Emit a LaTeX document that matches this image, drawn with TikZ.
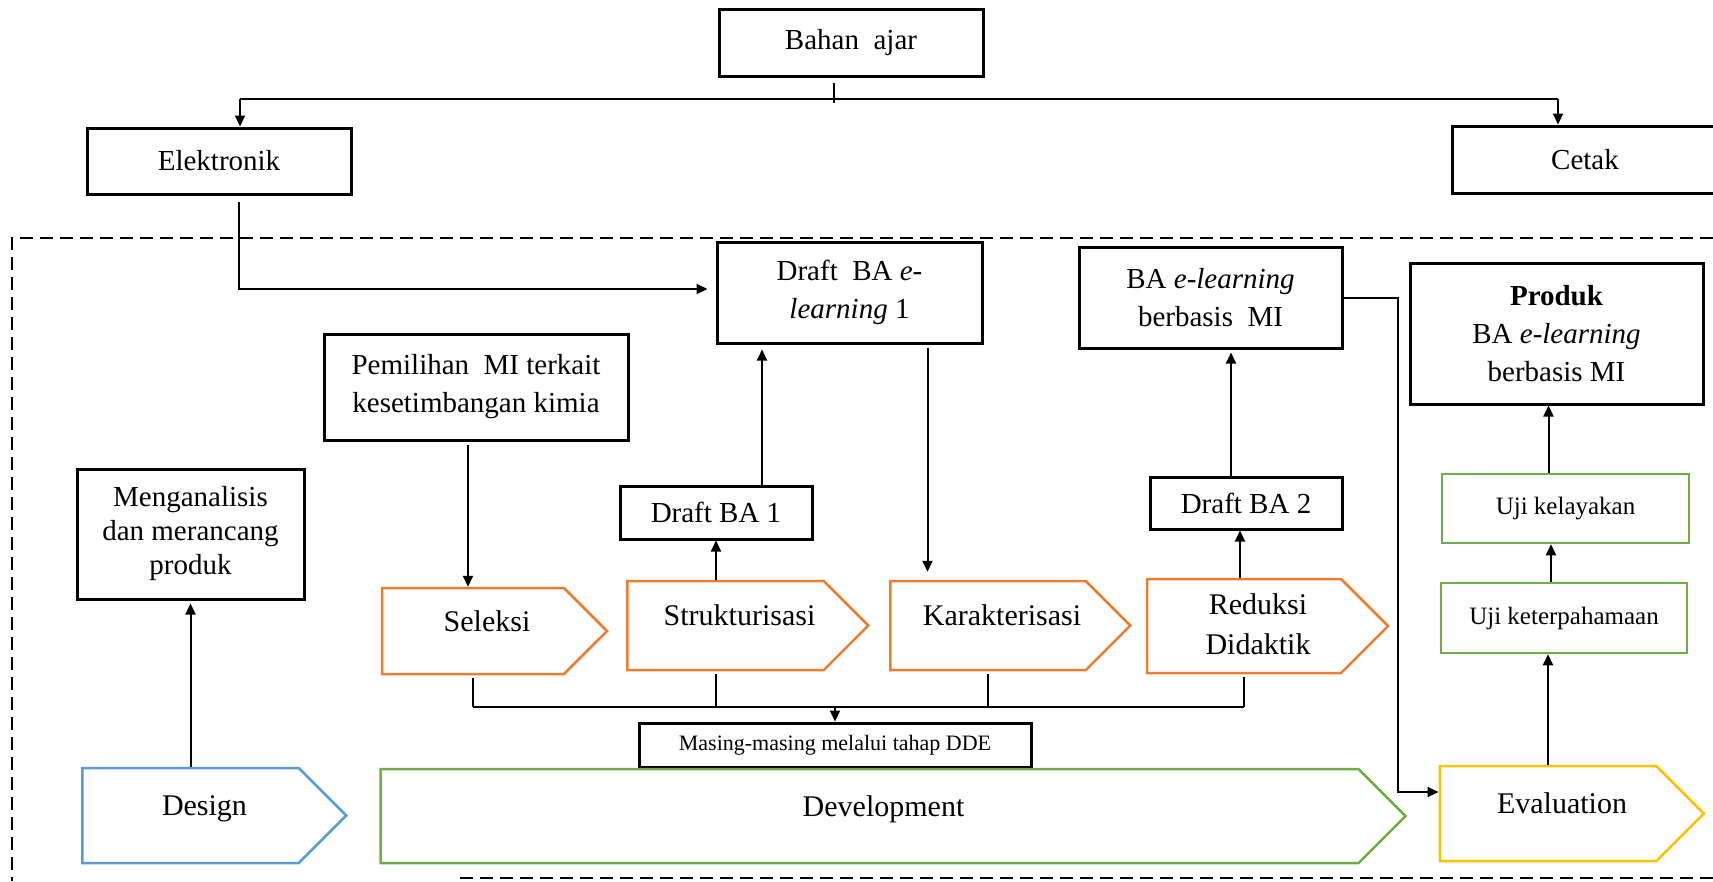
\documentclass[tikz,border=0pt]{standalone}
\usepackage{fontspec}
\setmainfont{Liberation Serif}
\usetikzlibrary{arrows.meta,shapes.symbols}
\definecolor{oranye}{HTML}{ED7D31}
\definecolor{hijau}{HTML}{70AD47}
\definecolor{biru}{HTML}{5B9BD5}
\definecolor{kuning}{HTML}{FFC000}
\tikzset{
  kotak/.style={draw, line width=3pt, inner sep=0pt, align=center, font=\fontsize{29}{38}\selectfont},
  uji/.style={kotak, draw=hijau, line width=2.5pt, font=\fontsize{25}{30}\selectfont},
  tahap/.style={signal, signal to=east, signal pointer angle=90, draw=#1, line width=2.5pt, inner sep=0pt,
    font=\fontsize{30}{40}\selectfont, execute at begin node={\hspace*{28pt}}},
  sebaris/.style={text height=20pt, text depth=20pt},
  panah/.style={line width=2pt, -{Triangle[length=11pt,width=10pt]}},
  garis/.style={line width=2pt},
  tipis/.style={line width=1.5pt},
  bingkai/.style={line width=2.5pt, dash pattern=on 13pt off 7pt},
}
\begin{document}
\begin{tikzpicture}[x=1pt, y=-1pt]
        \useasboundingbox (0,0) rectangle (1713,881);
        \clip (0,0) rectangle (1713,881);
        % bahan ajar
        \node[kotak, minimum width=264pt, minimum height=67pt] (bahan) at (851,42.5) {Bahan~ ajar};
        \node[kotak, minimum width=264pt, minimum height=66pt] (elektronik) at (219,161) {Elektronik};
        \node[kotak, minimum width=266pt, minimum height=67pt] (cetak) at (1585,159.5) {Cetak};
        \coordinate (cabang) at (834,99);
        \coordinate (kiri) at (240,99);
        \coordinate (kanan) at (1558,99);
        \draw[tipis] ([yshift=-5pt]bahan.south -| cabang) -- ([yshift=-4pt]cabang);
        \draw[garis] (kiri) -- (kanan);
        \draw[panah] (kiri) -- (kiri |- elektronik.north);
        \draw[panah] (kanan) -- (kanan |- cetak.north);
        % bingkai
        \draw[bingkai] (1713,238) -- (12,238) -- (12,881);
        \draw[bingkai] (460,878) -- (1713,878);
        % kotak
        \node[kotak, minimum width=265pt, minimum height=101pt] (draftsatu) at (849.5,292.5) {Draft~ BA \textit{e-}\\\textit{learning} 1};
        \node[kotak, minimum width=263pt, minimum height=101pt] (bael) at (1210.5,297.5) {BA \textit{e-learning}\\berbasis~ MI};
        \node[kotak, minimum width=293pt, minimum height=141pt] (produk) at (1556.5,333.5) {\textbf{Produk}\\BA \textit{e-learning}\\berbasis MI};
        \node[kotak, minimum width=304pt, minimum height=106pt] (pemilihan) at (476,387) {Pemilihan~ MI terkait\\kesetimbangan kimia};
        \node[kotak, minimum width=227pt, minimum height=130pt, font=\fontsize{29}{34}\selectfont] (analisis) at (190.5,534) {Menganalisis\\dan merancang\\produk};
        \node[kotak, minimum width=192pt, minimum height=53pt] (draftba1) at (716,512.5) {Draft BA 1};
        \node[kotak, minimum width=192pt, minimum height=52pt] (draftba2) at (1246,503) {Draft BA 2};
        \node[uji, minimum width=247pt, minimum height=69pt] (kelayakan) at (1565.5,508.5) {Uji kelayakan};
        \node[uji, minimum width=246pt, minimum height=70pt] (keterpahaman) at (1564,618) {Uji keterpahamaan};
        \node[kotak, minimum width=392pt, minimum height=44pt, font=\fontsize{22}{26}\selectfont] (dde) at (835,745) {Masing-masing melalui tahap DDE};
        % tahap
        \node[tahap=oranye, sebaris, minimum width=225pt, minimum height=86pt] (seleksi) at (473,631) {Seleksi};
        \node[tahap=oranye, sebaris, minimum width=241pt, minimum height=89pt] (struktur) at (725.5,625.5) {Strukturisasi};
        \node[tahap=oranye, sebaris, minimum width=240pt, minimum height=89pt] (karakter) at (988,625.5) {Karakterisasi};
        \node[tahap=oranye, minimum width=241pt, minimum height=94pt] (reduksi) at (1244,626) {\begin{tabular}{@{}c@{}}Reduksi\\Didaktik\end{tabular}};
        \node[tahap=biru, sebaris, minimum width=264pt, minimum height=95pt] (design) at (190.5,815.5) {Design};
        \node[tahap=hijau, sebaris, minimum width=1025pt, minimum height=94pt] (develop) at (869.5,816) {Development};
        \node[tahap=kuning, sebaris, minimum width=264pt, minimum height=95pt] (evaluation) at (1548,813.5) {Evaluation};
        % panah
        \coordinate (belok) at (239,289);
        \draw[panah, shorten >=8pt] ([yshift=-6pt]elektronik.south -| belok) -- (belok) -- (draftsatu.west |- belok);
        \draw[panah, shorten >=3pt] (design.north) -- (analisis.south);
        \draw[panah] ([xshift=-8pt,yshift=-3pt]pemilihan.south) -- ([xshift=-8pt]pemilihan.south |- seleksi.north);
        \draw[panah] (struktur.north -| draftba1.south) -- (draftba1.south);
        \draw[panah, shorten >=5pt] ([xshift=46pt]draftba1.north) -- ([xshift=46pt]draftba1.north |- draftsatu.south);
        \draw[panah, shorten >=8pt] ([xshift=78pt,yshift=-3pt]draftsatu.south) -- ([xshift=78pt]draftsatu.south |- karakter.north);
        \draw[panah] ([xshift=-6pt]draftba2.south |- reduksi.north) -- ([xshift=-6pt]draftba2.south);
        \draw[panah, shorten >=3pt] ([xshift=-15pt]draftba2.north) -- ([xshift=-15pt]draftba2.north |- bael.south);
        \coordinate (siku) at (1398,792);
        \draw[panah] (bael.east) -| (siku) -- (siku -| evaluation.west);
        \draw[panah] (evaluation.north) -- (evaluation.north |- keterpahaman.south);
        \draw[panah] ([xshift=-13pt]keterpahaman.north) -- ([xshift=-13pt]keterpahaman.north |- kelayakan.south);
        \draw[panah] ([xshift=-17pt]kelayakan.north) -- ([xshift=-17pt]kelayakan.north |- produk.south);
        % DDE
        \coordinate (bawah) at (838,707);
        \foreach \n in {seleksi,karakter,reduksi}
          \draw[tipis] ([yshift=-3pt]\n.south) -- (\n.south |- bawah);
        \draw[tipis] ([yshift=-3pt]struktur.south -| draftba1.south) -- (draftba1.south |- bawah);
        \draw[garis] (seleksi.south |- bawah) -- (reduksi.south |- bawah);
        \draw[panah] (dde.north |- bawah) -- (dde.north);
\end{tikzpicture}
\end{document}
